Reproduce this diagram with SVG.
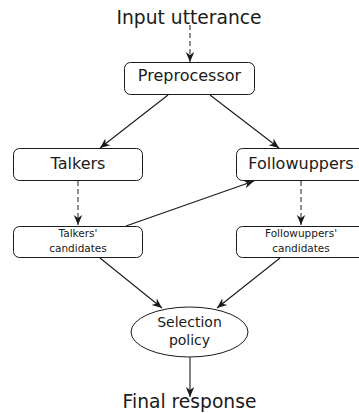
<svg xmlns="http://www.w3.org/2000/svg" width="359" height="413" viewBox="0 0 359 413">
<style>
text{font-family:"DejaVu Sans","Liberation Sans",sans-serif;fill:#1a1a1a;text-anchor:middle}
.box{fill:#fff;stroke:#1a1a1a;stroke-width:1}
.edge{fill:none;stroke:#1a1a1a;stroke-width:1.1}
.dash{fill:none;stroke:#333;stroke-width:1.1;stroke-dasharray:5,3}
.big{font-size:18.7px}
.mid{font-size:16px}
.sm{font-size:10.5px}
.el{font-size:14px}
</style>
<defs>
<marker id="ah" viewBox="-11 -6 12 12" refX="0" refY="0" markerWidth="12" markerHeight="12" markerUnits="userSpaceOnUse" orient="auto">
<path d="M0,0 L-10,-4.2 L-7,0 L-10,4.2 Z" fill="#1a1a1a"/>
</marker>
</defs>
<rect width="359" height="413" fill="#fff"/>
<g id="connectors">
<line class="dash" x1="190" y1="25" x2="190" y2="62" marker-end="url(#ah)"/>
<line class="edge" x1="168" y1="95" x2="100" y2="148" marker-end="url(#ah)"/>
<line class="edge" x1="210" y1="95" x2="279" y2="148" marker-end="url(#ah)"/>
<line class="dash" x1="78" y1="181" x2="78" y2="225" marker-end="url(#ah)"/>
<line class="dash" x1="301" y1="181" x2="301" y2="225" marker-end="url(#ah)"/>
<line class="edge" x1="126" y1="226" x2="254" y2="181" marker-end="url(#ah)"/>
<line class="edge" x1="100" y1="258" x2="162" y2="308" marker-end="url(#ah)"/>
<line class="edge" x1="280" y1="258" x2="217" y2="308" marker-end="url(#ah)"/>
<line class="edge" x1="190" y1="357" x2="190" y2="397" marker-end="url(#ah)"/>
</g>
<g id="input"><text class="big" x="189" y="24">Input utterance</text></g>
<g id="preprocessor">
<rect class="box" x="124.5" y="62.5" width="130" height="32" rx="6"/>
<text class="mid" x="189.5" y="81">Preprocessor</text>
</g>
<g id="talkers">
<rect class="box" x="13.5" y="148.5" width="129" height="32" rx="6"/>
<text class="mid" x="78" y="169">Talkers</text>
</g>
<g id="followuppers">
<rect class="box" x="236.5" y="148.5" width="129" height="32" rx="6"/>
<text class="mid" x="301" y="169">Followuppers</text>
</g>
<g id="talkers-candidates">
<rect class="box" x="13.5" y="226.5" width="129" height="31" rx="6"/>
<text class="sm" x="78" y="237">Talkers'</text>
<text class="sm" x="78" y="252">candidates</text>
</g>
<g id="followuppers-candidates">
<rect class="box" x="236.5" y="226.5" width="129" height="31" rx="6"/>
<text class="sm" x="301" y="237">Followuppers'</text>
<text class="sm" x="301" y="252">candidates</text>
</g>
<g id="selection">
<ellipse class="box" cx="189.5" cy="332" rx="58.5" ry="25"/>
<text class="el" x="189.5" y="327">Selection</text>
<text class="el" x="189.5" y="345">policy</text>
</g>
<g id="final"><text class="big" x="189.5" y="408">Final response</text></g>
</svg>
